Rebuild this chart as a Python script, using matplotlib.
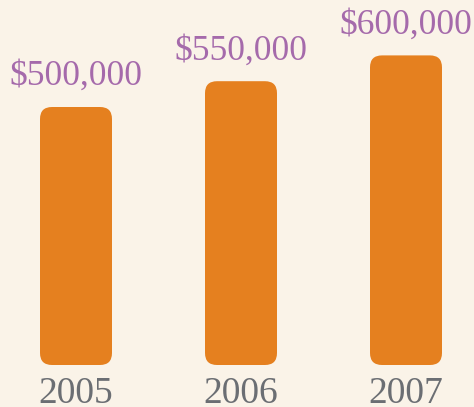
import numpy as np
import matplotlib
matplotlib.use('Agg')
import matplotlib.pyplot as plt
from matplotlib.patches import FancyBboxPatch

# data
years = ['2005', '2006', '2007']
revenue = [500000, 550000, 600000]
value_labels = ['$500,000', '$550,000', '$600,000']

bg = '#FAF3E8'
bar_color = '#E5801F'
label_color = '#A56AAB'
year_color = '#6B6E73'

fig = plt.figure(figsize=(4.74, 4.07), dpi=100, facecolor=bg)
ax = fig.add_axes([0, 0, 1, 1])
ax.set_facecolor(bg)

px_x = 165.0        # pixels per category step
px_y = 0.000516     # pixels per dollar
ax.set_xlim(-76 / px_x, 2 + (474 - 406) / px_x)
ax.set_ylim(-(407 - 365) / px_y, 365 / px_y)
ax.axis('off')

width = 72 / px_x
r = 12 / px_x
for i, v in enumerate(revenue):
    box = FancyBboxPatch((i - width / 2, 0), width, v,
                         boxstyle=f"round,pad=0,rounding_size={r}",
                         mutation_aspect=px_x / px_y,
                         facecolor=bar_color, edgecolor='none')
    ax.add_patch(box)
    ax.annotate(value_labels[i], (i, v), xytext=(0, 15.8), textcoords='offset points',
                ha='center', va='baseline', fontsize=25.5, color=label_color,
                family='Liberation Serif')
    ax.annotate(years[i], (i, 0), xytext=(0, -27.5), textcoords='offset points',
                ha='center', va='baseline', fontsize=27, color=year_color,
                family='Liberation Serif')

fig.savefig('out.png', dpi=100, facecolor=bg)
